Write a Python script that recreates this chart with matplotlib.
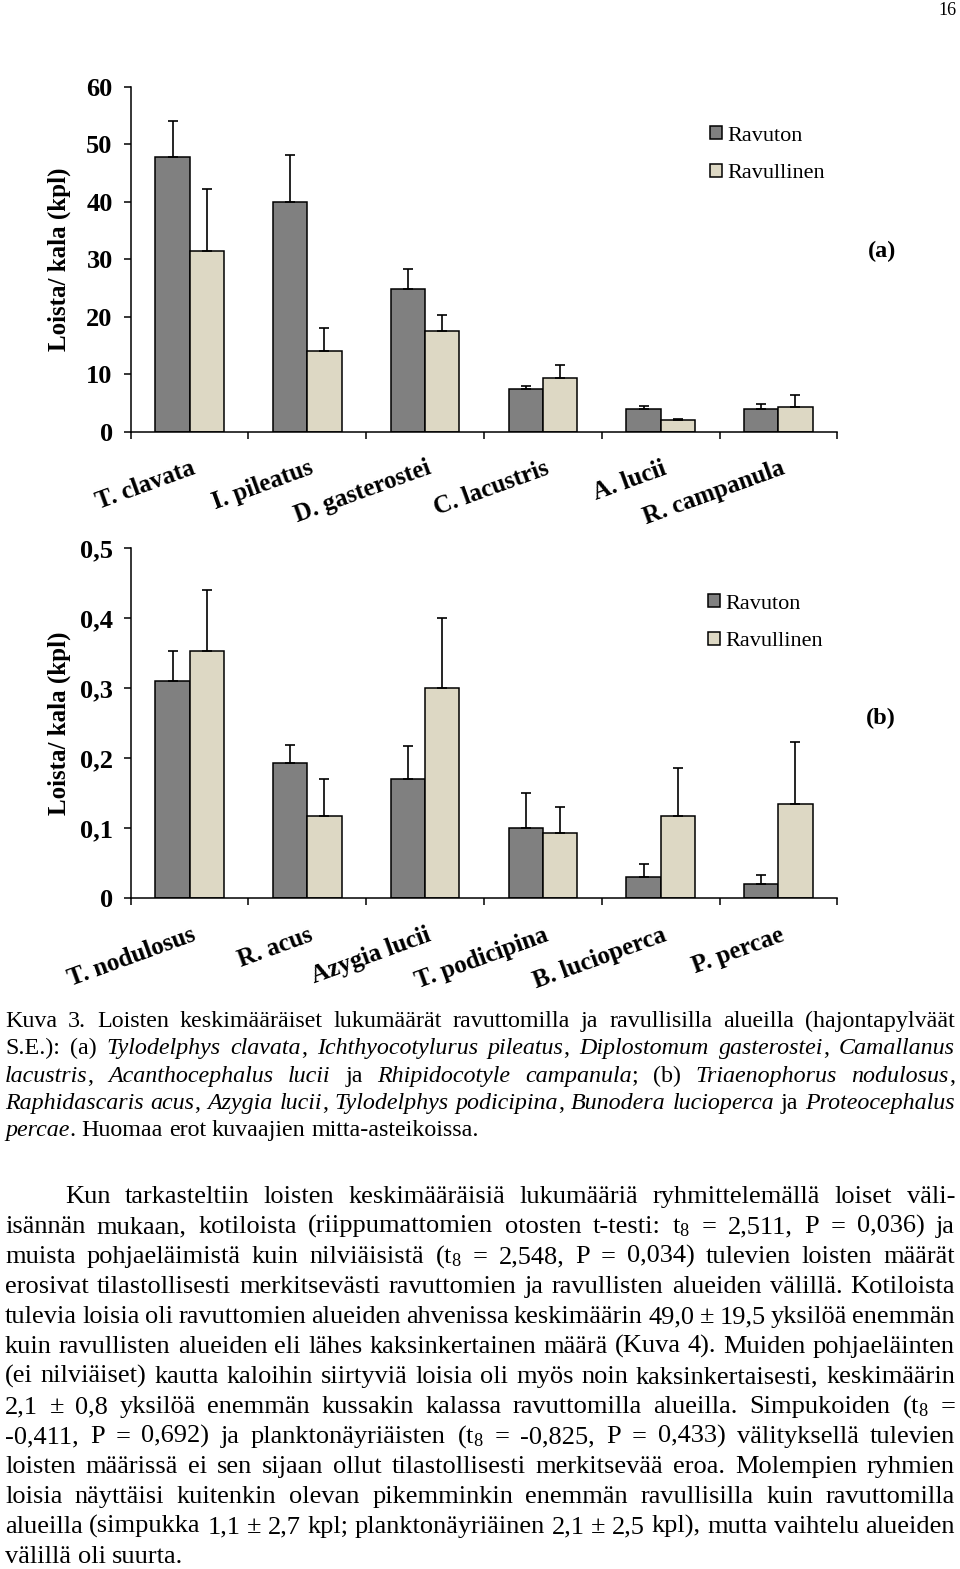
import matplotlib
matplotlib.use('Agg')
import matplotlib.pyplot as plt
import matplotlib.transforms as mtransforms
import numpy as np

plt.rcParams['font.family'] = ['Liberation Serif', 'DejaVu Serif']
plt.rcParams['mathtext.default'] = 'regular'

W, H = 960, 1569
fig = plt.figure(figsize=(W / 100, H / 100), dpi=100)
PX = mtransforms.IdentityTransform()

# ---------------- data ----------------
series_names = ['Ravuton', 'Ravullinen']
series_colors = ['#808080', '#DDD8C4']

cats_a = ['T. clavata', 'I. pileatus', 'D. gasterostei', 'C. lacustris', 'A. lucii', 'R. campanula']
ravuton_a = [47.8, 39.9, 24.9, 7.4, 3.9, 3.9]
ravuton_a_se = [6.2, 8.2, 3.4, 0.5, 0.6, 0.9]
ravullinen_a = [31.4, 14.1, 17.5, 9.3, 2.0, 4.3]
ravullinen_a_se = [10.8, 4.0, 2.8, 2.3, 0.25, 2.0]
yticks_a = [0, 10, 20, 30, 40, 50, 60]
yticklabels_a = ['0', '10', '20', '30', '40', '50', '60']

cats_b = ['T. nodulosus', 'R. acus', 'Azygia lucii', 'T. podicipina', 'B. lucioperca', 'P. percae']
ravuton_b = [0.310, 0.194, 0.170, 0.100, 0.030, 0.021]
ravuton_b_se = [0.044, 0.025, 0.047, 0.051, 0.019, 0.012]
ravullinen_b = [0.354, 0.117, 0.300, 0.093, 0.117, 0.135]
ravullinen_b_se = [0.086, 0.053, 0.100, 0.037, 0.069, 0.089]
yticks_b = [0, 0.1, 0.2, 0.3, 0.4, 0.5]
yticklabels_b = ['0', '0,1', '0,2', '0,3', '0,4', '0,5']

ylabel = 'Loista/ kala (kpl)'

caption_lines = [
    "Kuva 3. Loisten keskimääräiset lukumäärät ravuttomilla ja ravullisilla alueilla (hajontapylväät",
    "S.E.): (a) *Tylodelphys clavata*, *Ichthyocotylurus pileatus*, *Diplostomum gasterostei*, *Camallanus*",
    "*lacustris*, *Acanthocephalus lucii* ja *Rhipidocotyle campanula*; (b) *Triaenophorus nodulosus*,",
    "*Raphidascaris acus*, *Azygia lucii*, *Tylodelphys podicipina*, *Bunodera lucioperca* ja *Proteocephalus*",
    "*percae*. Huomaa erot kuvaajien mitta-asteikoissa.",
]

body_lines = [
    "Kun tarkasteltiin loisten keskimääräisiä lukumääriä ryhmittelemällä loiset väli-",
    "isännän mukaan, kotiloista (riippumattomien otosten t-testi: t$_8$ = 2,511, P = 0,036) ja",
    "muista pohjaeläimistä kuin nilviäisistä (t$_8$ = 2,548, P = 0,034) tulevien loisten määrät",
    "erosivat tilastollisesti merkitsevästi ravuttomien ja ravullisten alueiden välillä. Kotiloista",
    "tulevia loisia oli ravuttomien alueiden ahvenissa keskimäärin 49,0 ± 19,5 yksilöä enemmän",
    "kuin ravullisten alueiden eli lähes kaksinkertainen määrä (Kuva 4). Muiden pohjaeläinten",
    "(ei nilviäiset) kautta kaloihin siirtyviä loisia oli myös noin kaksinkertaisesti, keskimäärin",
    "2,1 ± 0,8 yksilöä enemmän kussakin kalassa ravuttomilla alueilla. Simpukoiden (t$_8$ =",
    "-0,411, P = 0,692) ja planktonäyriäisten (t$_8$ = -0,825, P = 0,433) välityksellä tulevien",
    "loisten määrissä ei sen sijaan ollut tilastollisesti merkitsevää eroa. Molempien ryhmien",
    "loisia näyttäisi kuitenkin olevan pikemminkin enemmän ravullisilla kuin ravuttomilla",
    "alueilla (simpukka 1,1 ± 2,7 kpl; planktonäyriäinen 2,1 ± 2,5 kpl), mutta vaihtelu alueiden",
    "välillä oli suurta.",
]

page_number = '16'


# ---------------- charts ----------------
def px_rect(left, top, right, bottom):
    return [left / W, 1 - bottom / H, (right - left) / W, (bottom - top) / H]


def panel(rect, cats, v1, e1, v2, e2, ylim, yticks, yticklabels, tag, tag_xy, leg_xy):
    ax = fig.add_axes(rect)
    n = len(cats)
    x = np.arange(n) + 0.5
    bw = 0.29
    zeros = np.zeros(n)
    ekw = dict(ecolor='black', elinewidth=1.2, capsize=3.4, capthick=1.2)
    b1 = ax.bar(x - bw / 2, v1, width=bw, color=series_colors[0], edgecolor='black',
                linewidth=1.1, yerr=[zeros, e1], error_kw=ekw, label=series_names[0])
    b2 = ax.bar(x + bw / 2, v2, width=bw, color=series_colors[1], edgecolor='black',
                linewidth=1.1, yerr=[zeros, e2], error_kw=ekw, label=series_names[1])
    ax.set_xlim(0, n)
    ax.set_ylim(*ylim)
    for s in ('top', 'right'):
        ax.spines[s].set_visible(False)
    for s in ('left', 'bottom'):
        ax.spines[s].set_linewidth(1.1)
    ax.set_yticks(yticks)
    ax.set_yticklabels(yticklabels, fontsize=19, fontweight='bold')
    ax.tick_params(axis='y', direction='out', length=5, width=1.1, pad=8)
    ax.set_xticks(np.arange(n + 1))
    ax.set_xticklabels([])
    ax.tick_params(axis='x', which='major', direction='out', length=5, width=1.1)
    ax.set_xticks(x, minor=True)
    ax.set_xticklabels(cats, minor=True, rotation=20, ha='right', va='top',
                       rotation_mode='anchor', fontsize=18, fontweight='bold')
    ax.tick_params(axis='x', which='minor', length=0, pad=18)
    off = mtransforms.ScaledTranslation(1 / 100, 0, fig.dpi_scale_trans)
    for lab in ax.get_xticklabels(minor=True):
        lab.set_transform(lab.get_transform() + off)
    ax.set_ylabel(ylabel, fontsize=18, fontweight='bold', va='center', ha='center')
    ax.yaxis.set_label_coords((59 - 130.7) / 706.6, 0.5)
    ax.legend(handles=[b1, b2], loc='upper left',
              bbox_to_anchor=(leg_xy[0] / W, 1 - leg_xy[1] / H),
              bbox_transform=fig.transFigure, frameon=False, fontsize=16,
              handlelength=0.55, handleheight=0.55, handletextpad=0.25,
              labelspacing=0.82, borderpad=0, borderaxespad=0)
    fig.text(tag_xy[0], H - tag_xy[1], tag, transform=PX, ha='center', va='center',
             fontsize=17.5, fontweight='bold')
    return ax


panel(px_rect(130.7, 86.7, 837.3, 431.7), cats_a, ravuton_a, ravuton_a_se,
      ravullinen_a, ravullinen_a_se, (0, 60), yticks_a, yticklabels_a,
      '(a)', (882, 251), (710, 126))
panel(px_rect(130.7, 548.3, 837.3, 898.3), cats_b, ravuton_b, ravuton_b_se,
      ravullinen_b, ravullinen_b_se, (0, 0.5), yticks_b, yticklabels_b,
      '(b)', (881, 718), (708, 594))


# ---------------- text layout ----------------
renderer = fig.canvas.get_renderer()


def parse(line):
    words, cur, buf, ital = [], [], '', False
    for ch in line:
        if ch == '*':
            if buf:
                cur.append((buf, ital))
                buf = ''
            ital = not ital
        elif ch == ' ':
            if buf:
                cur.append((buf, ital))
                buf = ''
            if cur:
                words.append(cur)
                cur = []
        else:
            buf += ch
    if buf:
        cur.append((buf, ital))
    if cur:
        words.append(cur)
    return words


def measure(s, fs, ital=False):
    t = fig.text(0, 0, s, fontsize=fs, style='italic' if ital else 'normal', transform=PX)
    w = t.get_window_extent(renderer=renderer).width
    t.remove()
    return w


def natural_width(line, fs):
    words = parse(line)
    sp = measure('a a', fs) - measure('aa', fs)
    tot = sum(measure(s, fs, it) for w in words for s, it in w)
    return tot + sp * (len(words) - 1)


def layout(lines, fs, left, right, base0, spacing, indent=0.0):
    sp = measure('a a', fs) - measure('aa', fs)
    for i, line in enumerate(lines):
        words = parse(line)
        x0 = left + (indent if i == 0 else 0)
        y = H - (base0 + i * spacing)
        objs = []
        widths = []
        for w in words:
            segs = []
            ww = 0
            for s, it in w:
                t = fig.text(0, y, s, fontsize=fs, style='italic' if it else 'normal',
                             transform=PX, ha='left', va='baseline')
                sw = t.get_window_extent(renderer=renderer).width
                segs.append((t, sw))
                ww += sw
            objs.append(segs)
            widths.append(ww)
        if i < len(lines) - 1 and len(words) > 1:
            gap = (right - x0 - sum(widths)) / (len(words) - 1)
        else:
            gap = sp
        x = x0
        for segs, ww in zip(objs, widths):
            xx = x
            for t, sw in segs:
                t.set_x(xx)
                xx += sw
            x += ww + gap


cap_fs = 10 * 473 / natural_width(caption_lines[-1], 10)
body_fs = 10 * 178 / natural_width(body_lines[-1], 10)

layout(caption_lines, cap_fs, 5, 955, 1027, 27.3)
layout(body_lines, body_fs, 5, 955, 1203, 30, indent=60)

fig.text(957, H - 15, page_number, transform=PX, ha='right', va='baseline', fontsize=13)

fig.savefig('out.png', dpi=100)
